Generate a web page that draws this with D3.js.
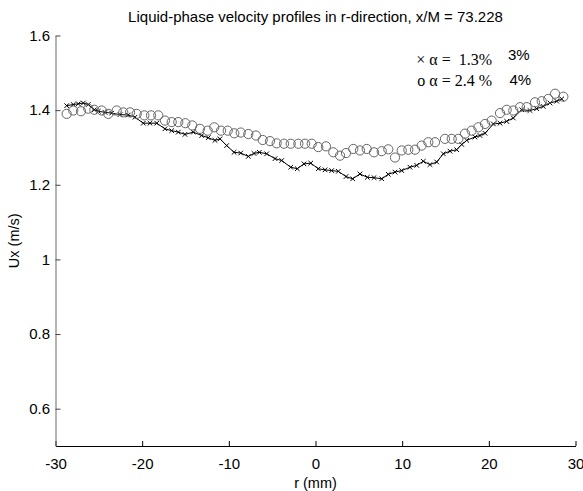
<!DOCTYPE html>
<html>
<head>
<meta charset="utf-8">
<script src="https://cdn.jsdelivr.net/npm/d3@7"></script>
<style>
  html, body { margin: 0; padding: 0; background: #fff; }
  svg { display: block; }
</style>
</head>
<body>
<svg id="chart" width="583" height="491"></svg>
<script>
// ---- data ----
const titleText = "Liquid-phase velocity profiles in r-direction, x/M = 73.228";
const xLabel = "r (mm)";
const yLabel = "Ux (m/s)";
const xTicks = [-30, -20, -10, 0, 10, 20, 30];
const yTicks = [0.6, 0.8, 1, 1.2, 1.4, 1.6];

// series 1: crosses, alpha = 1.3%
const r1 = [-28.71, -27.95, -27.37, -26.79, -26.22, -25.52, -25.06, -24.29, -23.52, -22.56,
            -21.60, -20.83, -19.87, -19.10, -18.32, -17.37, -16.59, -15.83, -15.06, -14.10,
            -13.13, -12.37, -11.60, -11.02, -10.25, -9.40, -8.63, -7.75, -7.10, -6.48,
            -5.63, -4.67, -3.90, -2.86, -2.10, -1.33, -0.55, 0.32, 1.10, 1.87,
            2.63, 3.52, 4.29, 5.13, 5.98, 6.75, 7.64, 8.40, 9.17, 9.95,
            10.90, 11.68, 12.44, 13.21, 13.98, 14.75, 15.52, 16.29, 16.87, 17.45,
            18.40, 18.98, 19.56, 20.52, 21.29, 22.06, 22.82, 23.79, 24.75, 25.52,
            26.28, 27.06, 27.83, 28.41];
const u1 = [1.412, 1.415, 1.417, 1.419, 1.415, 1.401, 1.397, 1.394, 1.392, 1.388,
            1.387, 1.381, 1.365, 1.365, 1.365, 1.350, 1.345, 1.341, 1.335, 1.341,
            1.332, 1.326, 1.319, 1.323, 1.305, 1.287, 1.285, 1.276, 1.284, 1.287,
            1.283, 1.270, 1.265, 1.247, 1.243, 1.256, 1.258, 1.243, 1.240, 1.238,
            1.236, 1.222, 1.216, 1.229, 1.220, 1.219, 1.216, 1.228, 1.234, 1.238,
            1.247, 1.252, 1.263, 1.254, 1.261, 1.283, 1.290, 1.294, 1.308, 1.319,
            1.328, 1.332, 1.338, 1.363, 1.365, 1.370, 1.379, 1.401, 1.399, 1.404,
            1.410, 1.419, 1.424, 1.430];

// series 2: circles, alpha = 2.4%
const r2 = [-28.71, -27.95, -27.06, -26.22, -25.52, -24.67, -23.91, -22.94, -22.18, -21.40,
            -20.63, -19.75, -18.98, -18.14, -17.37, -16.59, -15.83, -15.02, -14.22, -13.33,
            -12.44, -11.68, -10.90, -10.13, -9.37, -8.63, -7.75, -6.87, -6.09, -5.25,
            -4.48, -3.63, -2.86, -1.98, -1.21, -0.44, 0.32, 1.21, 2.05, 2.83,
            3.52, 4.36, 5.13, 5.91, 6.75, 7.64, 8.40, 9.17, 9.95, 10.71,
            11.48, 12.25, 13.02, 13.79, 14.94, 15.72, 16.48, 17.25, 18.02, 18.79,
            19.56, 20.33, 21.29, 22.06, 22.82, 23.60, 24.37, 25.33, 26.10, 26.86,
            27.64, 28.60];
const u2 = [1.390, 1.399, 1.397, 1.404, 1.401, 1.399, 1.390, 1.399, 1.394, 1.394,
            1.390, 1.386, 1.386, 1.386, 1.372, 1.368, 1.368, 1.365, 1.359, 1.350,
            1.345, 1.354, 1.345, 1.345, 1.338, 1.340, 1.336, 1.332, 1.320, 1.317,
            1.311, 1.310, 1.310, 1.310, 1.310, 1.310, 1.301, 1.303, 1.287, 1.278,
            1.285, 1.296, 1.292, 1.296, 1.287, 1.290, 1.295, 1.273, 1.292, 1.294,
            1.294, 1.305, 1.314, 1.314, 1.323, 1.323, 1.323, 1.337, 1.345, 1.354,
            1.363, 1.372, 1.392, 1.401, 1.399, 1.408, 1.408, 1.421, 1.424, 1.430,
            1.444, 1.436];

const legend1 = "× α =  1.3%";
const legend2 = "o α = 2.4 %";
const ghost1 = "3%";
const ghost2 = "4%";

// ---- drawing ----
const SANS = "'Liberation Sans', Arial, Helvetica, sans-serif";
const SERIF = "'Liberation Serif', 'Times New Roman', Times, serif";

const svg = d3.select("#chart");
svg.append("rect").attr("width", 583).attr("height", 491).attr("fill", "#fff");

const x = d3.scaleLinear().domain([-30, 30]).range([55.5, 575.5]);
const y = d3.scaleLinear().domain([0.5, 1.6]).range([446, 35.5]);

// x axis
const xAxis = svg.append("g")
  .attr("transform", `translate(0,${y(0.5)})`)
  .call(d3.axisBottom(x).tickValues(xTicks).tickFormat(d => String(d))
        .tickSizeInner(-5).tickSizeOuter(0).tickPadding(12));
xAxis.select(".domain").attr("stroke", "#000");
xAxis.selectAll(".tick line").attr("stroke", "#000");
xAxis.selectAll("text").style("font-family", SANS).style("font-size", "15px").attr("fill", "#000");

// y axis
const yAxis = svg.append("g")
  .attr("transform", `translate(${x(-30)},0)`)
  .call(d3.axisLeft(y).tickValues(yTicks).tickFormat(d => String(d))
        .tickSizeInner(-5).tickSizeOuter(0).tickPadding(5.5));
yAxis.select(".domain").attr("stroke", "#666");
yAxis.selectAll(".tick line").attr("stroke", "#444");
yAxis.selectAll("text").style("font-family", SANS).style("font-size", "15px").attr("fill", "#000");

// title
svg.append("text").attr("x", (x(-30) + x(30)) / 2).attr("y", 22)
  .attr("text-anchor", "middle").style("font-family", SANS).style("font-size", "15px")
  .attr("fill", "#000").text(titleText);

// axis labels
svg.append("text").attr("x", (x(-30) + x(30)) / 2).attr("y", 488)
  .attr("text-anchor", "middle").style("font-family", SANS).style("font-size", "14.5px")
  .attr("fill", "#000").text(xLabel);
svg.append("text")
  .attr("transform", `translate(18.5,${(y(0.5) + y(1.6)) / 2}) rotate(-90)`)
  .attr("text-anchor", "middle").style("font-family", SANS).style("font-size", "14.5px")
  .attr("fill", "#000").text(yLabel);

// series data
const s1 = r1.map((r, i) => ({ r, u: u1[i] }));
const s2 = r2.map((r, i) => ({ r, u: u2[i] }));

// series 1: line + crosses
svg.append("path").datum(s1)
  .attr("fill", "none").attr("stroke", "#000").attr("stroke-width", 1)
  .attr("d", d3.line().x(d => x(d.r)).y(d => y(d.u)));

const cs = 2.3;
svg.append("g").selectAll("path").data(s1).join("path")
  .attr("transform", d => `translate(${x(d.r)},${y(d.u)})`)
  .attr("d", `M${-cs},${-cs}L${cs},${cs}M${-cs},${cs}L${cs},${-cs}`)
  .attr("stroke", "#000").attr("stroke-width", 1).attr("fill", "none");

// series 2: open circles
svg.append("g").selectAll("circle").data(s2).join("circle")
  .attr("cx", d => x(d.r)).attr("cy", d => y(d.u)).attr("r", 4.6)
  .attr("fill", "none").attr("stroke", "#666").attr("stroke-width", 1);

// legend text (serif) and leftover labels
svg.append("text").attr("x", 492).attr("y", 64.5).attr("text-anchor", "end")
  .style("font-family", SERIF).style("font-size", "16px").style("white-space", "pre")
  .attr("xml:space", "preserve").attr("fill", "#000").text(legend1);
svg.append("text").attr("x", 492).attr("y", 85.5).attr("text-anchor", "end")
  .style("font-family", SERIF).style("font-size", "16px").style("white-space", "pre")
  .attr("xml:space", "preserve").attr("fill", "#000").text(legend2);
svg.append("text").attr("x", 508).attr("y", 60)
  .style("font-family", SANS).style("font-size", "15px").attr("fill", "#000").text(ghost1);
svg.append("text").attr("x", 509.5).attr("y", 85)
  .style("font-family", SANS).style("font-size", "15px").attr("fill", "#000").text(ghost2);
</script>
</body>
</html>
